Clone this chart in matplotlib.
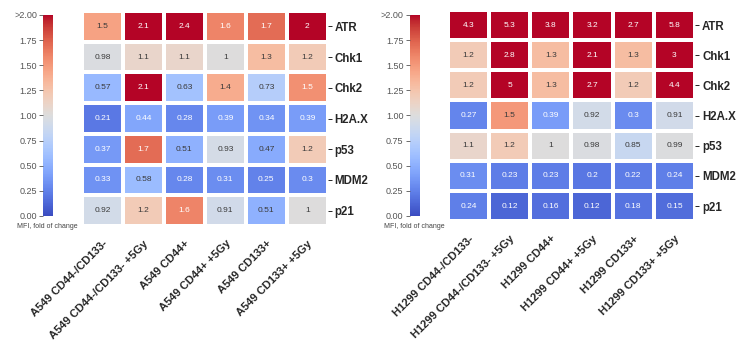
import numpy as np
import matplotlib
matplotlib.use("Agg")
import matplotlib.pyplot as plt
from matplotlib.colors import Normalize, to_rgb

plt.rcParams["font.family"] = ["Liberation Sans", "DejaVu Sans"]

genes = ["ATR", "Chk1", "Chk2", "H2A.X", "p53", "MDM2", "p21"]

a549_labels = ["A549 CD44-/CD133-", "A549 CD44-/CD133- +5Gy", "A549 CD44+",
               "A549 CD44+ +5Gy", "A549 CD133+", "A549 CD133+ +5Gy"]
a549_values = [
    [1.46, 2.1, 2.4, 1.6, 1.7, 2],
    [0.98, 1.1, 1.1, 1, 1.3, 1.2],
    [0.57, 2.1, 0.63, 1.4, 0.73, 1.54],
    [0.21, 0.44, 0.28, 0.39, 0.34, 0.39],
    [0.37, 1.7, 0.51, 0.93, 0.47, 1.2],
    [0.33, 0.58, 0.28, 0.31, 0.25, 0.3],
    [0.92, 1.2, 1.6, 0.91, 0.51, 1],
]

h1299_labels = ["H1299 CD44-/CD133-", "H1299 CD44-/CD133- +5Gy", "H1299 CD44+",
                "H1299 CD44+ +5Gy", "H1299 CD133+", "H1299 CD133+ +5Gy"]
h1299_values = [
    [4.3, 5.3, 3.8, 3.2, 2.7, 5.8],
    [1.2, 2.8, 1.3, 2.1, 1.3, 3],
    [1.2, 5, 1.3, 2.7, 1.2, 4.4],
    [0.27, 1.5, 0.39, 0.92, 0.3, 0.91],
    [1.1, 1.2, 1, 0.98, 0.85, 0.99],
    [0.31, 0.23, 0.23, 0.2, 0.22, 0.24],
    [0.24, 0.12, 0.16, 0.12, 0.18, 0.15],
]

cbar_ticks = [0.0, 0.25, 0.5, 0.75, 1.0, 1.25, 1.5, 1.75, 2.0]
cbar_ticklabels = ["0.00", "0.25", "0.50", "0.75", "1.00", "1.25", "1.50", "1.75", ">2.00"]
cbar_title = "MFI, fold of change"

cmap = plt.get_cmap("coolwarm")
norm = Normalize(vmin=0, vmax=2)

fig = plt.figure(figsize=(7.45, 3.46), dpi=100)


def lum(c):
    rgb = np.array(to_rgb(c))
    rgb = np.where(rgb <= .03928, rgb / 12.92, ((rgb + .055) / 1.055) ** 2.4)
    return rgb.dot([.2126, .7152, .0722])


def panel(hm_rect, cb_rect, values, xlabels):
    data = np.array(values, dtype=float)
    ax = fig.add_axes(hm_rect)
    mesh = ax.pcolormesh(data, cmap=cmap, norm=norm, edgecolors="white", linewidth=1.5)
    ax.set_xlim(0, data.shape[1])
    ax.set_ylim(data.shape[0], 0)
    for s in ax.spines.values():
        s.set_visible(False)
    for i in range(data.shape[0]):
        for j in range(data.shape[1]):
            v = data[i, j]
            c = cmap(norm(min(v, 2)))
            tc = "#3a3a3a" if lum(c) > .408 else "white"
            ax.text(j + 0.5, i + 0.5, format(v, ".2g"), ha="center", va="center",
                    fontsize=6, color=tc)
    ax.set_xticks(np.arange(data.shape[1]) + 0.5)
    ax.set_xticklabels(xlabels, rotation=45, ha="right", rotation_mode="anchor",
                       fontsize=8, fontweight="bold", color="#262626")
    ax.tick_params(axis="x", length=0, pad=9)
    ax.yaxis.tick_right()
    ax.set_yticks(np.arange(data.shape[0]) + 0.5)
    ax.set_yticklabels(genes, fontsize=8.3, fontweight="bold", color="#262626")
    ax.tick_params(axis="y", length=3, width=0.7, color="#262626", pad=2)

    cax = fig.add_axes(cb_rect)
    cb = fig.colorbar(mesh, cax=cax)
    cb.outline.set_visible(False)
    cb.set_ticks(cbar_ticks)
    cb.set_ticklabels(cbar_ticklabels)
    cax.yaxis.set_ticks_position("left")
    cax.tick_params(labelsize=6.5, colors="#555555", length=3, width=0.6, pad=1.5)
    cax.text(-2.6, -0.035, cbar_title, transform=cax.transAxes,
             fontsize=5, color="#444444", ha="left", va="top")


panel([0.110, 0.347, 0.330, 0.621], [0.058, 0.376, 0.0135, 0.581], a549_values, a549_labels)
panel([0.601, 0.361, 0.332, 0.610], [0.550, 0.376, 0.0135, 0.581], h1299_values, h1299_labels)

fig.savefig("out.png", dpi=100)
